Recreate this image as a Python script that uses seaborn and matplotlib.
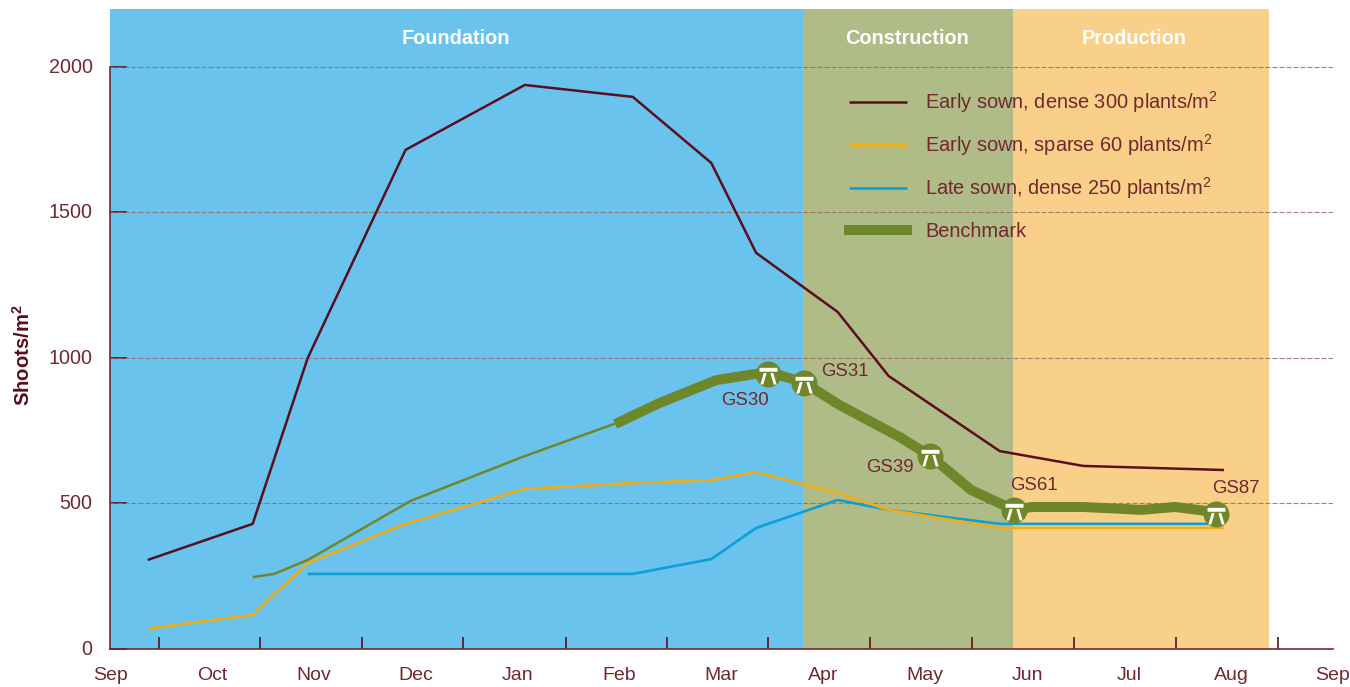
import pandas as pd
import matplotlib
matplotlib.use("Agg")
import matplotlib.pyplot as plt
import seaborn as sns
from matplotlib.path import Path
from matplotlib.transforms import ScaledTranslation

# month units: 0 = Sep label, 1 = Oct label, ...
MONTHS = ["Sep", "Oct", "Nov", "Dec", "Jan", "Feb", "Mar", "Apr", "May", "Jun", "Jul", "Aug", "Sep"]
MONTH_TICKS = [0.48, 1.47, 2.47, 3.46, 4.47, 5.47, 6.46, 7.46, 8.46, 9.46, 10.46, 11.46]

DENSE_X = [0.37, 1.40, 1.94, 2.90, 4.07, 5.13, 5.90, 6.34, 7.14, 7.64, 8.73, 9.55, 10.93]
DENSE_Y = [306, 430, 1000, 1715, 1938, 1897, 1670, 1361, 1158, 938, 680, 629, 615]

SPARSE_X = [0.37, 1.40, 1.94, 2.90, 4.07, 5.13, 5.90, 6.34, 7.14, 7.64, 8.73, 10.93]
SPARSE_Y = [70, 117, 295, 430, 550, 570, 580, 608, 536, 478, 416, 416]

LATE_X = [1.94, 5.13, 5.90, 6.34, 7.14, 7.64, 8.73, 10.93]
LATE_Y = [258, 258, 309, 416, 512, 478, 430, 430]

BENCH_THIN_X = [1.40, 1.61, 1.94, 2.95, 4.07, 5.00]
BENCH_THIN_Y = [247, 258, 306, 509, 663, 780]

BENCH_X = [5.00, 5.39, 5.95, 6.46, 6.80, 7.16, 7.75, 8.05, 8.45, 8.87, 9.05, 9.55, 10.12, 10.45, 10.85]
BENCH_Y = [780, 845, 924, 952, 917, 838, 728, 663, 546, 478, 488, 488, 478, 488, 470]

STAGE_X = [6.46, 6.81, 8.05, 8.87, 10.85]
STAGE_Y = [945, 915, 663, 478, 464]
STAGE_LABELS = ["GS30", "GS31", "GS39", "GS61", "GS87"]
STAGE_OFFSET = [(-23, -27), (41, 11), (-40, -11), (20, 24), (20, 25)]

BAND_NAMES = ["Foundation", "Construction", "Production"]
BAND_START = [0.0, 6.80, 8.86]
BAND_END = [6.80, 8.86, 11.37]
BAND_COLORS = ["#6AC3EC", "#B0BC87", "#F9D089"]
BAND_LABEL_X = [3.39, 7.82, 10.05]

DARK = "#5A0F1E"
TEXT = "#74272F"
OLIVE = "#6F872B"
AMBER = "#F0AE16"
BLUE = "#0D9FD8"

sns.set_theme(style="white")
plt.rcParams["font.family"] = ["Liberation Sans", "DejaVu Sans"]
plt.rcParams["mathtext.default"] = "regular"

fig = plt.figure(figsize=(13.5, 6.87), dpi=100)
ax = fig.add_axes([110 / 1350, 1 - 649 / 687, 1223 / 1350, 640 / 687])
ax.set_xlim(0, 12)
ax.set_ylim(0, 2199)

for name, x0, x1, col, lx in zip(BAND_NAMES, BAND_START, BAND_END, BAND_COLORS, BAND_LABEL_X):
    ax.axvspan(x0, x1, color=col, lw=0, zorder=0)
    ax.text(lx, 2098, name, color="white", fontsize=14.3, fontweight="bold",
            ha="center", va="center", zorder=5)

for v in [500, 1000, 1500, 2000]:
    ax.axhline(v, color="#9A6A62", lw=0.8, alpha=0.85, ls=(0, (4.5, 1.8)), zorder=1)


def draw(x, y, color, lw, label=None, cap="butt", z=3):
    d = pd.DataFrame({"x": x, "y": y})
    sns.lineplot(data=d, x="x", y="y", color=color, linewidth=lw, label=label, ax=ax,
                 estimator=None, sort=False, solid_capstyle=cap, solid_joinstyle="round",
                 legend=False if label is None else "auto", zorder=z)


draw(DENSE_X, DENSE_Y, DARK, 1.8, "Early sown, dense 300 plants/m$^{2}$")
draw(SPARSE_X, SPARSE_Y, AMBER, 1.9, "Early sown, sparse 60 plants/m$^{2}$", z=3.2)
draw(LATE_X, LATE_Y, BLUE, 1.9, "Late sown, dense 250 plants/m$^{2}$")
draw(BENCH_THIN_X, BENCH_THIN_Y, OLIVE, 1.8)
draw(BENCH_X, BENCH_Y, OLIVE, 7.2, "Benchmark", cap="projecting", z=3.5)

# growth stage symbol: a bar with two splayed legs
icon = Path(
    [(-0.62, 0.46), (0.62, 0.46), (0.62, 0.19), (-0.62, 0.19), (-0.62, 0.46),
     (-0.33, 0.10), (-0.13, 0.10), (-0.36, -0.69), (-0.56, -0.69), (-0.33, 0.10),
     (0.13, 0.10), (0.33, 0.10), (0.56, -0.69), (0.36, -0.69), (0.13, 0.10)],
    [Path.MOVETO, Path.LINETO, Path.LINETO, Path.LINETO, Path.CLOSEPOLY] * 3)
ax.scatter(STAGE_X, STAGE_Y, s=350, color=OLIVE, lw=0, zorder=4)
ax.scatter(STAGE_X, STAGE_Y, s=207, marker=icon, color="white", lw=0, zorder=5)
for sx, sy, lab, off in zip(STAGE_X, STAGE_Y, STAGE_LABELS, STAGE_OFFSET):
    ax.annotate(lab, (sx, sy), xytext=off, textcoords="offset pixels", color=TEXT,
                fontsize=13.4, ha="center", va="center", zorder=6)

# benchmark row has no superscript, so it sits in its own legend to keep the row spacing
handles, labels = ax.get_legend_handles_labels()
leg_opts = dict(loc="upper left", bbox_transform=fig.transFigure, frameon=False, fontsize=14.4,
                labelcolor=TEXT, handlelength=2.9, handletextpad=0.9, labelspacing=0.85,
                borderpad=0, borderaxespad=0)
first = ax.legend(handles[:3], labels[:3], bbox_to_anchor=(849 / 1350, 1 - 89 / 687), **leg_opts)
ax.add_artist(first)
ax.legend(handles[3:], labels[3:], bbox_to_anchor=(849 / 1350, 1 - 222 / 687), **leg_opts)

ax.set_xlabel("")
ax.set_ylabel("")
for side in ["top", "right"]:
    ax.spines[side].set_visible(False)
for side in ["left", "bottom"]:
    ax.spines[side].set_color(TEXT)
    ax.spines[side].set_linewidth(1.2)
ax.spines["left"].set_bounds(0, 2000)

ax.set_xticks(MONTH_TICKS)
ax.set_xticklabels([])
ax.tick_params(axis="x", bottom=True, direction="in", length=8.6, width=1.2, color=DARK)
ax.set_yticks([0, 500, 1000, 1500, 2000])
ax.set_yticklabels(["0", "500", "1000", "1500", "2000"])
ax.tick_params(axis="y", left=True, direction="in", length=12, width=1.2, color=DARK, labelcolor=TEXT,
               labelsize=14.2, pad=12.5)
shift = ScaledTranslation(0, 1.5 / 100, fig.dpi_scale_trans)
for lbl in ax.get_yticklabels():
    lbl.set_transform(lbl.get_transform() + shift)
for i, m in enumerate(MONTHS):
    ax.annotate(m, (i, 0), xytext=(0, -27), textcoords="offset pixels", color=TEXT,
                fontsize=14, ha="center", va="center", annotation_clip=False)
fig.text(23 / 1350, 1 - 355 / 687, "Shoots/m$^{2}$", rotation=90, color=DARK, fontsize=14.6,
         fontweight="bold", ha="center", va="center")

fig.savefig("out.png", dpi=100)
